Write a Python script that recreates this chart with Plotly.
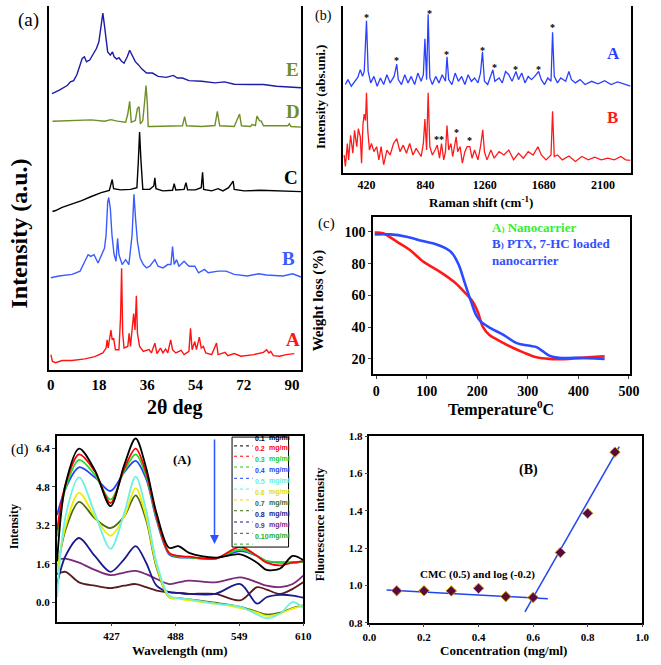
import plotly.graph_objects as go

# ---------------- data ----------------
# (a) XRD patterns (2theta deg, intensity a.u.)
xrd_A_x = [0.0, 0.6, 1.8, 4.2, 7.9, 12.7, 16.4, 19.4, 20.6, 21.0, 21.4, 22.4, 22.9, 23.4, 24.1, 25.4, 26.0, 26.4, 26.8, 27.3, 28.7, 29.2, 29.7, 30.4, 30.9, 31.4, 31.9, 32.3, 33.1, 34.5, 36.6, 37.5, 38.8, 39.6, 40.9, 41.8, 42.8, 43.6, 44.7, 45.4, 46.6, 48.6, 49.7, 51.5, 52.1, 52.7, 53.7, 54.3, 55.4, 56.1, 56.9, 57.8, 60.0, 61.8, 62.4, 65.0, 66.0, 68.4, 70.9, 75.7, 79.3, 80.5, 81.3, 82.0, 83.0, 85.4, 87.8, 90.8]
xrd_A_y = [16, 9, 7.7, 10, 10, 11.7, 14, 17.7, 22.7, 31, 22.7, 41, 31, 32.7, 21, 21, 54, 104, 37.7, 22.7, 24.3, 37.7, 24.3, 47.7, 57.7, 41, 76, 37.7, 24.3, 19.3, 21, 17.7, 27.7, 17, 22.7, 17.7, 21.7, 17.7, 31, 21, 17.7, 20.3, 16, 19.3, 42.7, 21, 29.3, 21, 33.7, 22.7, 24.3, 17.7, 16, 27.7, 16, 18.3, 15, 17, 14.3, 16, 18.3, 21, 17.7, 19.3, 15, 14.3, 16, 17]

xrd_B_x = [0, 3, 7.9, 10.9, 12.7, 13.9, 14.9, 16.1, 17.6, 18.8, 20.0, 20.6, 21.2, 21.6, 22.2, 22.8, 23.6, 24.3, 24.9, 25.4, 26.6, 27.9, 29.1, 30.3, 31.0, 31.6, 32.3, 33.3, 34.5, 35.7, 36.9, 38.8, 40.0, 41.8, 43.6, 44.8, 45.4, 46.0, 46.9, 47.8, 49.7, 51.5, 53.7, 55.1, 57.3, 58.7, 62.4, 65.4, 68.4, 73.3, 77.5, 80.5, 86.6, 90.2, 93.3]
xrd_B_y = [94.3, 96, 97.7, 101, 111, 117.7, 116, 117.7, 109.3, 117.7, 124.3, 137.7, 171, 176, 164.3, 137.7, 117.7, 111, 134.3, 117.7, 107.7, 112.7, 107.7, 137.7, 179.3, 154.3, 131, 114.3, 107.7, 104.3, 106, 112.7, 106, 104.3, 107.7, 107.7, 126, 107.7, 112.7, 106, 111, 106, 106, 99.3, 102.7, 99.3, 101, 101, 97.7, 96, 98.3, 97, 96, 98.3, 95]

xrd_C_x = [0.6, 1.8, 4.2, 7.9, 11.5, 15.1, 18.8, 21.8, 22.4, 22.9, 23.4, 26.0, 29.7, 32.1, 32.6, 33.1, 33.6, 34.3, 36.9, 38.4, 38.8, 39.2, 41.8, 45.4, 46.0, 46.6, 49.7, 50.4, 51.0, 53.9, 56.1, 56.6, 57.0, 60.0, 62.4, 64.2, 66.3, 68.0, 68.4, 72.1, 78.1, 84.2, 93.3]
xrd_C_y = [161.7, 162.7, 166, 169.3, 172.7, 177, 181, 183.3, 188.3, 194.3, 185, 183.7, 184.3, 186, 211, 242.7, 214.3, 184.3, 184.3, 187.7, 196, 185, 182.7, 183.3, 190, 183.7, 184.3, 191, 183.7, 183.7, 186, 201.7, 184.3, 182.7, 185, 182.7, 186, 192.7, 184.3, 182.7, 183.3, 182.7, 182]

xrd_D_x = [0.6, 7.9, 15.1, 20.0, 22.4, 24.8, 27.9, 28.7, 29.4, 30.0, 31.5, 32.3, 32.9, 33.4, 34.3, 35.0, 35.5, 36.0, 36.3, 37.5, 41.8, 49.1, 49.9, 50.6, 56.3, 61.2, 62.1, 63.0, 68.4, 69.7, 70.4, 71.1, 74.5, 75.1, 76.3, 76.9, 77.8, 78.5, 79.3, 83.0, 88.4, 89.0, 89.6, 93.3]
xrd_D_y = [253.7, 254.3, 255, 253.7, 255.3, 253.7, 252.7, 261, 274, 252.7, 254.3, 266.7, 268.3, 251, 254.3, 274.3, 290, 271, 248.3, 248.3, 248.3, 249, 258.3, 249, 248.3, 249.3, 263.7, 249, 248.3, 256, 261, 249, 248.3, 250.3, 249.3, 259, 254.3, 253.7, 249, 249, 249, 251, 248.3, 247.7]

xrd_E_x = [0.4, 3.0, 6.1, 7.3, 8.5, 9.7, 10.9, 11.7, 12.5, 13.3, 14.5, 15.7, 17.0, 17.9, 18.8, 19.4, 20.0, 21.2, 22.2, 23.0, 23.6, 24.6, 25.4, 26.3, 27.3, 28.5, 29.4, 30.3, 31.5, 32.7, 33.9, 35.7, 37.9, 40.0, 43.0, 45.7, 47.2, 49.1, 51.5, 56.3, 61.2, 64.8, 68.4, 74.5, 79.3, 84.2, 89.0, 93.3]
xrd_E_y = [281.7, 285, 290, 293.7, 295, 301, 311, 317.7, 319.3, 314.3, 316, 321, 327.7, 334.3, 354.3, 363.7, 351, 324.3, 321, 324.3, 319.3, 317, 318.3, 315, 312.7, 319.3, 326, 321, 314.3, 311, 307, 302.7, 302.7, 299.3, 298.3, 300.3, 297.7, 297.7, 295, 294.3, 292.7, 293.7, 291.3, 291, 291, 289.3, 288.3, 287.7]

xrd_ticks = [0, 18, 36, 54, 72, 90]

# (b) Raman spectra
raman_A_x = [270, 288, 312, 335, 358, 376, 392, 404, 420, 432, 450, 473, 496, 519, 542, 565, 588, 616, 635, 646, 669, 692, 715, 738, 762, 785, 808, 824, 835, 847, 858, 870, 888, 912, 935, 958, 981, 992, 1004, 1027, 1050, 1073, 1096, 1119, 1142, 1165, 1188, 1212, 1230, 1244, 1258, 1281, 1304, 1318, 1332, 1362, 1385, 1408, 1431, 1454, 1482, 1500, 1523, 1546, 1569, 1592, 1615, 1643, 1662, 1685, 1708, 1731, 1742, 1754, 1777, 1800, 1835, 1858, 1876, 1904, 1938, 1973, 2019, 2065, 2112, 2158, 2204, 2250, 2296]
raman_A_y = [90, 95, 88.3, 93.3, 97.3, 105, 98.3, 103.3, 155, 103.3, 91.7, 98.3, 88.3, 96.7, 90, 100, 91.7, 98.3, 110.7, 95, 90, 100, 91.7, 98.3, 90, 101.7, 93.3, 100, 136.7, 95, 161.7, 96.7, 90, 98.3, 91.7, 100, 93.3, 118.3, 95, 90, 101.7, 93.3, 98.3, 90, 100, 93.3, 96.7, 91.7, 101.7, 123.3, 93.3, 90, 100, 105, 93.3, 96.7, 91.7, 103.3, 100, 93.3, 103.3, 95, 101.7, 91.7, 98.3, 95, 98.3, 103.3, 95, 90, 96.7, 93.3, 143.3, 98.3, 91.7, 96.7, 93.3, 103.3, 95, 91.7, 95, 90, 93.3, 90.7, 94, 90, 92.7, 90.7, 88.3]

raman_B_x = [261, 270, 284, 293, 307, 323, 335, 351, 362, 376, 385, 395, 404, 413, 420, 429, 441, 455, 473, 492, 508, 524, 542, 565, 588, 612, 635, 658, 681, 704, 727, 750, 773, 808, 824, 835, 847, 858, 870, 888, 907, 923, 939, 953, 969, 981, 992, 1004, 1020, 1032, 1045, 1057, 1068, 1085, 1101, 1119, 1135, 1154, 1170, 1188, 1212, 1230, 1246, 1258, 1276, 1304, 1327, 1362, 1396, 1431, 1465, 1500, 1535, 1569, 1604, 1638, 1662, 1696, 1731, 1742, 1754, 1777, 1812, 1858, 1904, 1950, 1996, 2042, 2088, 2135, 2181, 2227, 2262, 2296]
raman_B_y = [18.3, 6.7, 30, 13.3, 38.3, 20, 43.3, 26.7, 45, 36.7, 10, 50, 60, 53.3, 81.7, 43.3, 23.3, 30, 21.7, 26.7, 13.3, 26.7, 8.3, 23.3, 18.3, 30, 35, 21.7, 28.3, 20, 30, 18.3, 25, 16.7, 30, 55, 23.3, 81.7, 26.7, 18.3, 23.3, 28.3, 15, 30, 13.3, 21.7, 48.3, 23.3, 30, 16.7, 26.7, 36.7, 21.7, 26.7, 10, 21.7, 26.7, 26.7, 15, 23.3, 13.3, 26.7, 44, 21.7, 13.3, 23.3, 15, 21.7, 18.3, 23.3, 13.3, 20, 15, 21.7, 18.3, 26.7, 18.3, 13.3, 18.3, 62.7, 16.7, 18.3, 13.3, 17.3, 11.7, 16.7, 13.3, 16, 13.3, 15, 13.3, 16.7, 13.3, 12.7]

raman_star_A_x = [420, 635, 865, 992, 1244, 1327, 1482, 1643, 1742]
raman_star_A_y = [158.3, 114, 162.7, 120.7, 125, 107.7, 105, 105.7, 147.7]
raman_star_B_x = [935, 1057, 1154]
raman_star_B_y = [34.3, 40.7, 33.3]
raman_star_B_txt = ["**", "*", "*"]
raman_ticks = [420, 840, 1260, 1680, 2100]

# (c) TGA
tga_T_A = [-3, 14.8, 40.5, 66, 92, 124, 156, 175, 191.5, 201, 211, 224, 240, 265, 291, 317, 342.5, 381, 420, 452]
tga_W_A = [99.6, 99, 93.8, 88.7, 81.5, 75.3, 68, 61.9, 55.7, 49.5, 40.2, 35, 32, 27.8, 24.1, 21, 20, 20, 21, 21.6]
tga_T_B = [-3, 27.6, 60, 92, 118, 137, 150, 163, 175, 188, 198, 207.6, 227, 252.5, 278, 304, 317, 330, 342.5, 362, 394, 452]
tga_W_B = [98.4, 98.4, 96.9, 94.2, 92.2, 89.7, 86.6, 79.4, 68, 55.7, 47.4, 43.3, 39.2, 35, 29.9, 28.2, 27.4, 24.7, 22, 20.6, 20.6, 20]

# (d)(A) fluorescence spectra
wl = [375, 383, 396, 411, 426, 439, 450, 460, 470, 482, 491, 501, 526, 550, 566, 575, 588, 600, 610]
conc_labels = ["0.1", "0.2", "0.3", "0.4", "0.5", "0.6", "0.7", "0.8", "0.9", "0.10"]
spec_01 = [1.7, 4.9, 6.4, 5.5, 4.0, 5.7, 6.82, 5.6, 3.7, 2.26, 2.33, 2.05, 1.85, 1.99, 1.64, 1.34, 1.40, 1.92, 1.75]
spec_02 = [3.0, 4.9, 6.16, 5.45, 4.13, 5.55, 6.4, 5.4, 3.56, 2.05, 1.92, 1.89, 1.81, 2.3, 1.92, 1.64, 1.53, 1.64, 1.71]
spec_03 = [2.74, 4.73, 5.93, 5.3, 4.27, 5.45, 6.16, 5.27, 3.49, 2.03, 1.89, 1.86, 1.81, 2.19, 1.92, 1.71, 1.67, 1.67, 1.68]
spec_04 = [3.63, 4.73, 5.62, 5.2, 4.63, 5.41, 5.89, 5.14, 3.42, 1.99, 1.86, 1.85, 1.81, 2.12, 1.92, 1.71, 1.64, 1.64, 1.68]
spec_05 = [0.2, 3.56, 5.2, 3.7, 2.22, 3.7, 5.23, 3.84, 1.64, 0.27, 0.16, 0.11, -0.07, -0.2, -0.52, -0.68, -0.48, 0.0, -0.25]
spec_06 = [1.23, 3.15, 4.55, 3.56, 2.77, 3.56, 4.75, 3.56, 1.51, 0.2, 0.14, 0.07, -0.07, -0.25, -0.44, -0.58, -0.48, -0.27, -0.16]
spec_07 = [1.23, 3.0, 4.18, 3.49, 3.08, 3.56, 4.45, 3.42, 1.44, 0.2, 0.16, 0.11, -0.03, -0.2, -0.41, -0.52, -0.44, -0.25, -0.14]
spec_08 = [0.75, 1.92, 2.67, 1.92, 1.26, 1.78, 2.33, 1.64, 0.68, 0.41, 0.38, 0.34, 0.34, 0.75, -0.07, 0.2, 0.3, 0.27, 0.18]
spec_09 = [1.78, 1.81, 1.64, 1.34, 1.12, 1.23, 1.3, 1.16, 0.96, 0.75, 0.82, 0.89, 0.82, 1.03, 0.82, 0.68, 0.62, 0.75, 1.1]
spec_010 = [1.16, 1.26, 0.82, 0.68, 0.58, 0.68, 0.75, 0.62, 0.48, 0.41, 0.38, 0.34, 0.34, 0.07, 0.62, 0.52, 0.34, 0.55, 0.82]
spectra = [spec_01, spec_02, spec_03, spec_04, spec_05, spec_06, spec_07, spec_08, spec_09, spec_010]
wl_ticks = [427, 488, 549, 610]
int_ticks = [0.0, 1.6, 3.2, 4.8, 6.4]

# (d)(B) CMC plot
conc = [0.1, 0.2, 0.3, 0.4, 0.5, 0.6, 0.7, 0.8, 0.9]
fluor = [0.971, 0.971, 0.970, 0.984, 0.940, 0.935, 1.176, 1.386, 1.714]
fit_low_x = [0.063, 0.654]
fit_low_y = [0.975, 0.928]
fit_high_x = [0.570, 0.916]
fit_high_y = [0.858, 1.744]

# ---------------- figure ----------------
W, H = 661, 665
def px(x): return x / W
def py(y): return 1 - y / H

SERIF = "Liberation Serif"
fig = go.Figure()

# panel (a)
xrd_cols = ["#ff1414", "#3a5cff", "#000000", "#6f8f25", "#1c1ca6"]
for xs, ys, c in zip([xrd_A_x, xrd_B_x, xrd_C_x, xrd_D_x, xrd_E_x],
                     [xrd_A_y, xrd_B_y, xrd_C_y, xrd_D_y, xrd_E_y], xrd_cols):
    fig.add_trace(go.Scatter(x=xs, y=ys, mode="lines", line=dict(color=c, width=1.4),
                             xaxis="x", yaxis="y", showlegend=False))

# panel (b)
fig.add_trace(go.Scatter(x=raman_A_x, y=raman_A_y, mode="lines", line=dict(color="#2b40ff", width=1.3),
                         xaxis="x2", yaxis="y2", showlegend=False))
fig.add_trace(go.Scatter(x=raman_B_x, y=raman_B_y, mode="lines", line=dict(color="#ff1a1a", width=1.3),
                         xaxis="x2", yaxis="y2", showlegend=False))

# panel (c)
fig.add_trace(go.Scatter(x=tga_T_A, y=tga_W_A, mode="lines", line=dict(color="#ff1a1a", width=2.6, shape="spline"),
                         xaxis="x3", yaxis="y3", showlegend=False))
fig.add_trace(go.Scatter(x=tga_T_B, y=tga_W_B, mode="lines", line=dict(color="#2a4bff", width=2.6, shape="spline"),
                         xaxis="x3", yaxis="y3", showlegend=False))

# panel (d)
spec_line_cols = ["#000000", "#ff0000", "#22dd22", "#2244ff", "#6ef0e0", "#eeee00", "#4a6a10", "#1a1a8c", "#7a2a7a", "#5a1a22"]
spec_text_cols = ["#000000", "#ff0000", "#22cc22", "#2244ff", "#66eedd", "#e0e000", "#3d6b1a", "#1a1a8c", "#7a2a7a", "#22aa22"]
order = [9, 8, 7, 6, 5, 4, 3, 2, 1, 0]
for i in order:
    fig.add_trace(go.Scatter(x=wl, y=spectra[i], mode="lines",
                             line=dict(color=spec_line_cols[i], width=1.8, shape="spline", smoothing=0.9),
                             xaxis="x4", yaxis="y4", showlegend=False))

# panel (B)
fig.add_trace(go.Scatter(x=fit_low_x, y=fit_low_y, mode="lines", line=dict(color="#2244ee", width=1.5),
                         xaxis="x5", yaxis="y5", showlegend=False))
fig.add_trace(go.Scatter(x=fit_high_x, y=fit_high_y, mode="lines", line=dict(color="#2244ee", width=1.5),
                         xaxis="x5", yaxis="y5", showlegend=False))
fig.add_trace(go.Scatter(x=conc, y=fluor, mode="markers",
                         marker=dict(symbol="diamond", size=8, color="#5a0a3c", line=dict(color="#c8a000", width=1)),
                         xaxis="x5", yaxis="y5", showlegend=False))

def tf(size):
    return dict(family=SERIF, size=size, color="black", weight="bold")

axis_common = dict(showline=True, linecolor="black", showgrid=False, zeroline=False)

fig.update_layout(
    width=W, height=H, margin=dict(l=0, r=0, t=0, b=0),
    paper_bgcolor="white", plot_bgcolor="white",
    xaxis=dict(domain=[px(43), px(302)], range=[-0.73, 93.4], anchor="y", tickvals=xrd_ticks,
               tickfont=tf(15), ticks="", linewidth=2, mirror=False, **axis_common),
    yaxis=dict(domain=[py(371), 1.0], range=[0, 371], anchor="x", showticklabels=False, ticks="",
               linewidth=2, mirror=True, **axis_common),
    xaxis2=dict(domain=[px(345), px(640)], range=[254, 2296], anchor="y2", tickvals=raman_ticks,
                tickfont=tf(12), ticks="", linewidth=2, mirror=False, **axis_common),
    yaxis2=dict(domain=[py(170), 1.0], range=[0, 170], anchor="x2", showticklabels=False, ticks="",
                linewidth=2, mirror=True, **axis_common),
    xaxis3=dict(domain=[px(376), px(639)], range=[-5.8, 501.3], anchor="y3", tickvals=[0, 100, 200, 300, 400, 500],
                tickfont=tf(14), ticks="outside", ticklen=3, linewidth=2, mirror=True, **axis_common),
    yaxis3=dict(domain=[py(375), py(215)], range=[10.3, 109.3], anchor="x3", tickvals=[20, 40, 60, 80, 100],
                tickfont=tf(14), ticks="outside", ticklen=3, linewidth=2, mirror=True, **axis_common),
    xaxis4=dict(domain=[px(51), px(304)], range=[374.6, 610], anchor="y4", tickvals=wl_ticks,
                tickfont=tf(11), ticks="outside", ticklen=3, linewidth=1.5, mirror=True, **axis_common),
    yaxis4=dict(domain=[py(627), py(438)], range=[-0.82, 6.92], anchor="x4", tickvals=int_ticks,
                ticktext=["%.1f" % v for v in int_ticks],
                tickfont=tf(11), ticks="outside", ticklen=3, linewidth=1.5, mirror=True, **axis_common),
    xaxis5=dict(domain=[px(372), px(652)], range=[0, 1.0], anchor="y5", tickvals=[0, 0.2, 0.4, 0.6, 0.8, 1.0],
                ticktext=["0.0", "0.2", "0.4", "0.6", "0.8", "1.0"],
                tickfont=tf(11), ticks="outside", ticklen=3, linewidth=1.5, mirror=True, **axis_common),
    yaxis5=dict(domain=[py(628), py(438)], range=[0.8, 1.8], anchor="x5", tickvals=[0.8, 1.0, 1.2, 1.4, 1.6, 1.8],
                ticktext=["0.8", "1.0", "1.2", "1.4", "1.6", "1.8"],
                tickfont=tf(11), ticks="outside", ticklen=3, linewidth=1.5, mirror=True, **axis_common),
)

ann = []
def pa(x, y, text, size, bold=True, color="black", angle=0, xanchor="center", family=SERIF):
    f = dict(family=family, size=size, color=color)
    if bold:
        f["weight"] = "bold"
    ann.append(dict(x=px(x), y=py(y), xref="paper", yref="paper", text=text, showarrow=False,
                    font=f, textangle=angle, xanchor=xanchor, yanchor="middle"))

# panel (a) texts
pa(22, 14, "(a)", 19, bold=False)
pa(12, 232, "Intensity (a.u.)", 24, angle=-90)
pa(172, 409, "2θ deg", 20)
for t, x, y, c in [("A", 90.2, 31, "#ff1414"), ("B", 88.8, 114, "#3a5cff"), ("C", 89.6, 196, "#000000"),
                   ("D", 90.2, 264, "#6f8f25"), ("E", 90.0, 306, "#6f8f25")]:
    ann.append(dict(x=x, y=y, xref="x", yref="y", text=t, showarrow=False,
                    font=dict(family=SERIF, size=19, color=c, weight="bold")))

# panel (b) texts
pa(325, 10, "(b)", 14, bold=False)
pa(322, 93, "Intensity (abs.uni.)", 13, angle=-90)
pa(487, 200, "Raman shift (cm<sup>-1</sup>)", 13)
ann.append(dict(x=2174, y=121.7, xref="x2", yref="y2", text="A", showarrow=False,
                font=dict(family=SERIF, size=17, color="#2b40ff", weight="bold")))
ann.append(dict(x=2165, y=56.7, xref="x2", yref="y2", text="B", showarrow=False,
                font=dict(family=SERIF, size=17, color="#ff1a1a", weight="bold")))
for x, y in zip(raman_star_A_x, raman_star_A_y):
    ann.append(dict(x=x, y=y, xref="x2", yref="y2", text="*", showarrow=False,
                    font=dict(family=SERIF, size=10, color="black", weight="bold")))
for x, y, t in zip(raman_star_B_x, raman_star_B_y, raman_star_B_txt):
    ann.append(dict(x=x, y=y, xref="x2", yref="y2", text=t, showarrow=False,
                    font=dict(family=SERIF, size=10, color="black", weight="bold")))

# panel (c) texts
pa(328, 221, "(c)", 15, bold=False)
pa(320, 300, "Weight loss (%)", 15, angle=-90)
pa(507, 410, "Temperature<sup>0</sup>C", 16)
pa(496, 226, "A<span style='font-size:9px'>)</span> Nanocarrier", 13, color="#33ee33", xanchor="left")
pa(496, 242, "B<span style='font-size:9px'>)</span> PTX, 7-HC loaded", 13, color="#3050ff", xanchor="left")
pa(496, 259, "nanocarrier", 13, color="#3050ff", xanchor="left")

# panel (d) texts
pa(13, 452, "(d)", 15, bold=False)
pa(8, 530, "Intensity", 12, angle=-90)
pa(178, 656, "Wavelength (nm)", 13)
pa(180, 462, "(A)", 13)

# panel (B) texts
pa(322, 528, "Fluorescence intensity", 12, angle=-90)
pa(510, 656, "Concentration (mg/ml)", 13)
ann.append(dict(x=0.582, y=1.62, xref="x5", yref="y5", text="(B)", showarrow=False,
                font=dict(family=SERIF, size=14, color="black", weight="bold")))
ann.append(dict(x=0.397, y=1.057, xref="x5", yref="y5", text="CMC (0.5) and log (-0.2)", showarrow=False,
                font=dict(family=SERIF, size=11, color="black", weight="bold")))

# legend of panel (d)
shapes = [dict(type="rect", xref="paper", yref="paper", x0=px(231), x1=px(289), y0=py(551), y1=py(439),
               line=dict(color="black", width=1), fillcolor="white", layer="above")]
row_y = [446, 456.5, 467.5, 479, 490, 501, 512, 523.5, 535, 546]
for i, lab in enumerate(conc_labels):
    yy = row_y[i]
    shapes.append(dict(type="line", xref="paper", yref="paper", x0=px(233), x1=px(252), y0=py(yy + 2), y1=py(yy + 2),
                       line=dict(color=spec_text_cols[i], width=1, dash="dot"), layer="above"))
    ann.append(dict(x=px(252), y=py(yy), xref="paper", yref="paper", text=lab, showarrow=False, xanchor="left",
                    font=dict(family="Liberation Sans", size=7, color=spec_text_cols[i], weight="bold")))
    ann.append(dict(x=px(267), y=py(yy), xref="paper", yref="paper", text="mg/ml", showarrow=False, xanchor="left",
                    font=dict(family="Liberation Sans", size=7, color=spec_text_cols[i], weight="bold")))

# arrow
ann.append(dict(x=px(213), y=py(548), ax=0, ay=-106, xref="paper", yref="paper",
                text="", showarrow=True, arrowhead=2, arrowsize=1.2,
                arrowwidth=1.5, arrowcolor="#2a55ff"))

fig.update_layout(annotations=ann, shapes=shapes)
fig.write_html("out.html", config={"displayModeBar": False},
               post_script="document.body.style.margin='0';document.body.style.padding='0';")
